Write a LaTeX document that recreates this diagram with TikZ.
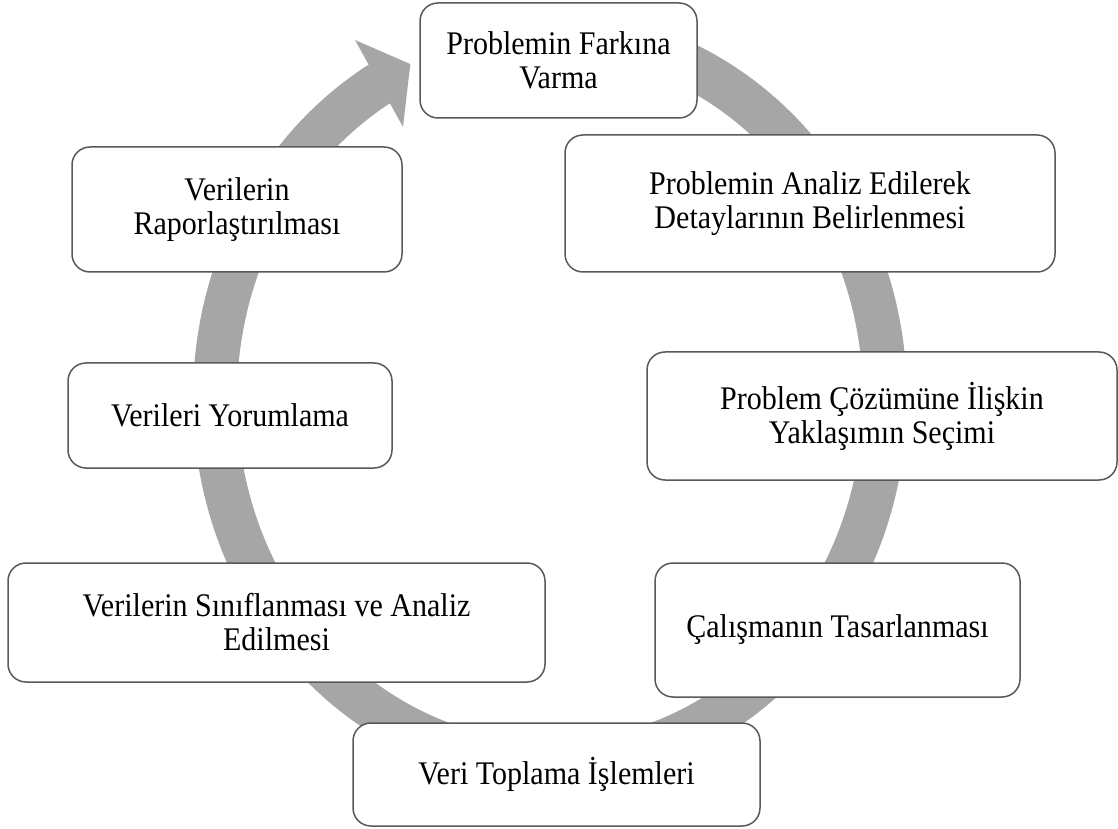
\documentclass[tikz,border=0pt]{standalone}
\usepackage{fontspec}
\setmainfont{Liberation Serif}[FakeStretch=0.91]
\begin{document}
\begin{tikzpicture}[x=1pt,y=1pt,
      ring/.style={draw=black!35,line width=44pt},
      stage node/.style={rectangle,rounded corners=18pt,draw=black!65,line width=1.5pt,fill=white,
        align=center,font=\fontsize{33}{34}\selectfont}]

      \useasboundingbox (0,0) rectangle (1118,828);

      % the grey cycle arrow behind the boxes
      \draw[ring] (550,430) ++(90:335 and 365) arc[start angle=90,end angle=-240,x radius=335,y radius=365];
      \fill[black!35] (355,788) -- (410.3,763.9) -- (403,701) -- cycle;

      \node[stage node,minimum width=277pt,minimum height=115pt] (1) at (558.5,767.5) {Problemin Farkına\\Varma};
      \node[stage node,minimum width=490pt,minimum height=137pt] (2) at (810,624.5) {Problemin Analiz Edilerek\\Detaylarının Belirlenmesi};
      \node[stage node,minimum width=470pt,minimum height=128pt] (3) at (882,412) {Problem Çözümüne İlişkin\\Yaklaşımın Seçimi};
      \node[stage node,minimum width=365pt,minimum height=134pt] (4) at (837.5,198) {Çalışmanın Tasarlanması};
      \node[stage node,minimum width=407pt,minimum height=103pt] (5) at (556.5,53.5) {Veri Toplama İşlemleri};
      \node[stage node,minimum width=537pt,minimum height=119pt] (6) at (276.5,205.5) {Verilerin Sınıflanması ve Analiz\\Edilmesi};
      \node[stage node,minimum width=324pt,minimum height=105pt] (7) at (230,412.5) {Verileri Yorumlama};
      \node[stage node,minimum width=330pt,minimum height=125pt] (8) at (237,618.5) {Verilerin\\Raporlaştırılması};
    \end{tikzpicture}
\end{document}
